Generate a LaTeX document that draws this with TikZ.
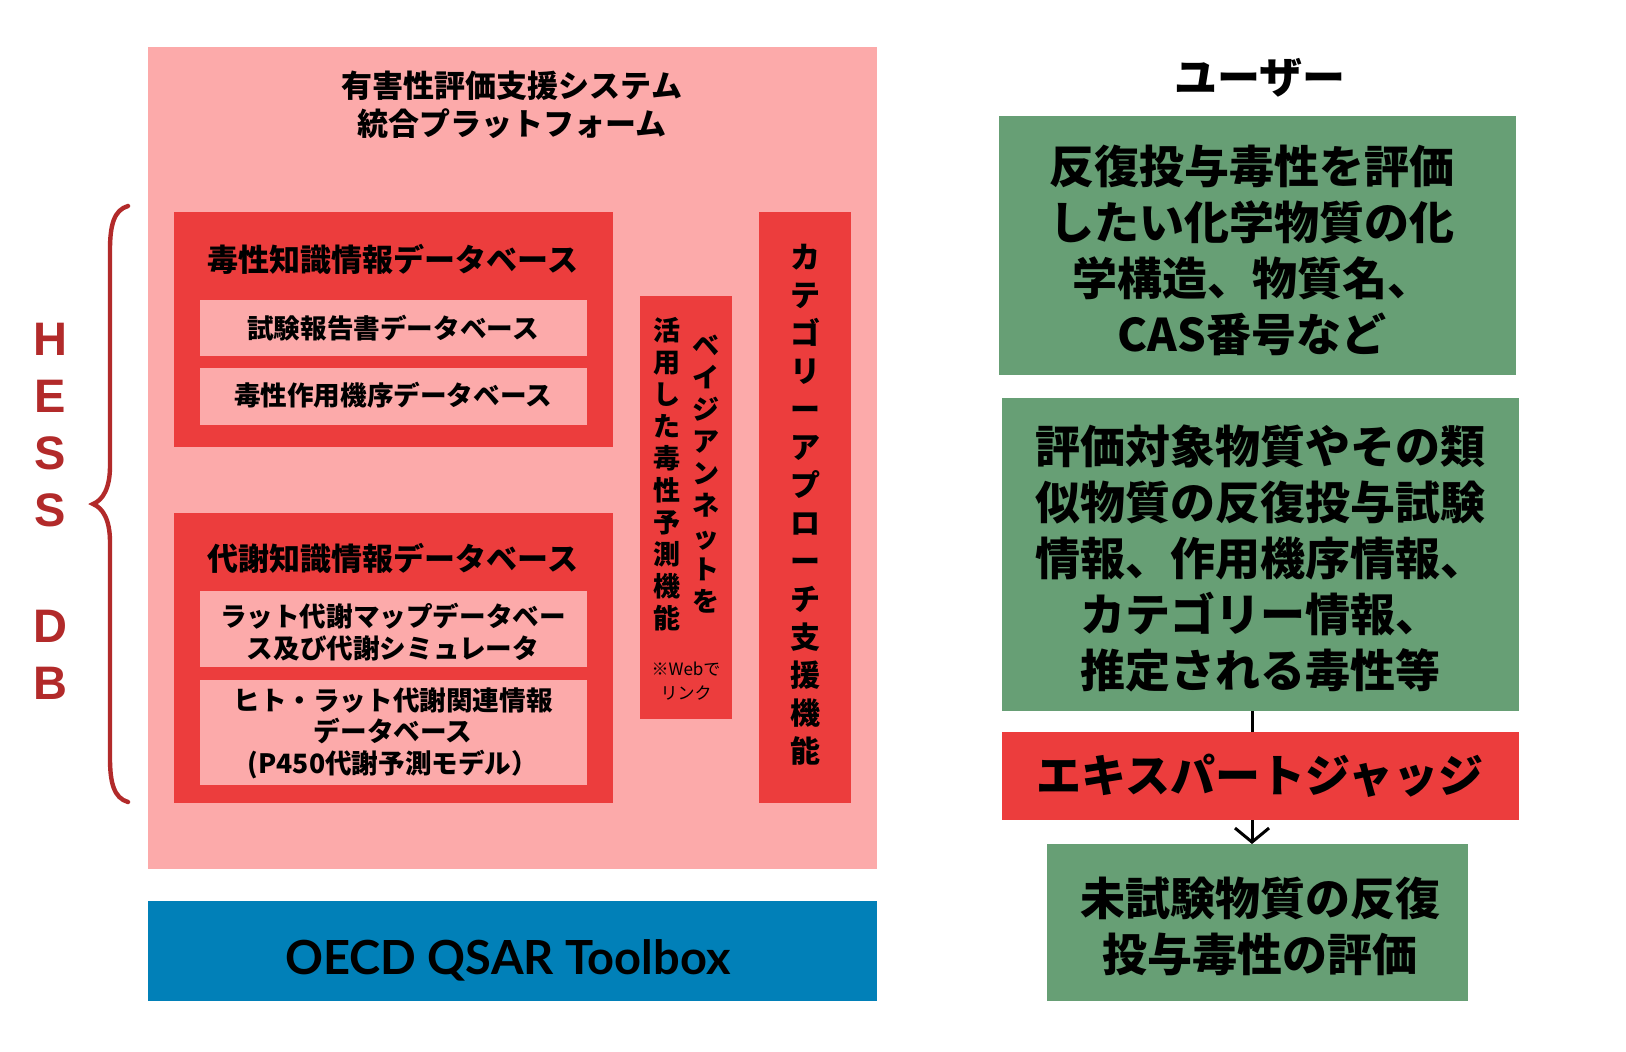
\documentclass[tikz,border=0pt]{standalone}
\usepackage{fontspec}
\setmainfont{Noto Sans CJK JP}
\newfontfamily\latofont{Lato}
\newfontfamily\arialfont{Liberation Sans}
\usetikzlibrary{fit,arrows.meta}
\definecolor{pinkc}{RGB}{252,170,170}
\definecolor{redc}{RGB}{236,61,61}
\definecolor{greenc}{RGB}{103,159,117}
\definecolor{bluec}{RGB}{1,128,184}
\definecolor{bracec}{RGB}{178,42,42}
\begin{document}
\begin{tikzpicture}[x=0.5pt,y=-0.5pt,
  box/.style={inner sep=0pt, outer sep=0pt, align=center},
  pinkbox/.style={box, fill=pinkc},
  redbox/.style={box, fill=redc},
  greenbox/.style={box, fill=greenc},
  bigtext/.style={box, font=\bfseries\fontsize{22.5}{28}\selectfont},
  dbtitle/.style={box, font=\bfseries\fontsize{15.5}{19}\selectfont},
  subtext/.style={box, font=\bfseries\fontsize{13.3}{15.8}\selectfont},
  vcol/.style={box, font=\bfseries\fontsize{13.5}{16}\selectfont},
  hess/.style={box, text=bracec, font=\arialfont\bfseries\fontsize{23.5}{23}\selectfont},
  conn/.style={line width=1.5pt, black}
]
\useasboundingbox[fill=white] (0,0) rectangle (1626,1051);

% main platform
\node[pinkbox, fit={(148,47)(877,869)}] (main) {};
\node[dbtitle] (title) at (512,105) {有害性評価支援システム\\統合プラットフォーム};

% toxicity knowledge DB
\node[redbox, fit={(174,212)(613,447)}] (tox) {};
\node[dbtitle] (toxt) at (393,259) {毒性知識情報データベース};
\node[pinkbox, fit={(200,300)(587,356)}] (tox1) {};
\node[subtext] (tox1t) at (393,328) {試験報告書データベース};
\node[pinkbox, fit={(200,368)(587,425)}] (tox2) {};
\node[subtext] (tox2t) at (393,395) {毒性作用機序データベース};

% metabolism knowledge DB
\node[redbox, fit={(174,513)(613,803)}] (met) {};
\node[dbtitle] (mett) at (393,558) {代謝知識情報データベース};
\node[pinkbox, fit={(200,591)(587,667)}] (met1) {};
\node[subtext] (met1t) at (393,632) {ラット代謝マップデータベー\\ス及び代謝シミュレータ};
\node[pinkbox, fit={(200,680)(587,785)}] (met2) {};
\node[subtext] (met2t) at (393,733) {ヒト・ラット代謝関連情報\\データベース\\(P450代謝予測モデル）};

% Bayesian network
\node[redbox, fit={(640,296)(732,719)}] (bay) {};
\node[vcol] (bayr) at (706,474) {ベ\\イ\\ジ\\ア\\ン\\ネ\\ッ\\ト\\を};
\node[vcol] (bayl) at (667,474) {活\\用\\し\\た\\毒\\性\\予\\測\\機\\能};
\node[box, font=\fontsize{8.5}{12}\selectfont] (web) at (686,681) {※Webで\\リンク};

% category approach
\node[redbox, fit={(759,212)(851,803)}] (cat) {};
\node[box, font=\bfseries\fontsize{15}{19}\selectfont] (catt) at (805,505)
  {カ\\テ\\ゴ\\リ\\ー\\ア\\プ\\ロ\\ー\\チ\\支\\援\\機\\能};

% OECD
\node[box, fill=bluec, fit={(148,901)(877,1001)}] (oecd) {};
\node[box, font=\latofont\bfseries\fontsize{23.5}{23}\selectfont] (oecdt) at (508,960) {OECD QSAR Toolbox};

% HESS DB brace
\node[hess] (h1) at (50,339) {H};
\node[hess] (h2) at (50,396) {E};
\node[hess] (h3) at (50,453) {S};
\node[hess] (h4) at (50,510) {S};
\node[hess] (h5) at (50,626) {D};
\node[hess] (h6) at (50,683) {B};
\draw[bracec, line width=2.2pt, line cap=round]
  (128,206) .. controls (114,210) and (110,225) .. (110,250) -- (110,466)
  .. controls (110,488) and (103,500) .. (93,504)
  .. controls (103,508) and (110,520) .. (110,542) -- (110,758)
  .. controls (110,783) and (114,798) .. (128,802);

% user side
\node[box, font=\bfseries\fontsize{21.5}{24}\selectfont] (user) at (1260,78) {ユーザー};
\node[greenbox, fit={(999,116)(1516,375)}] (g1) {};
\node[bigtext] (g1t) at (1252,250) {反復投与毒性を評価\\したい化学物質の化\\学構造、物質名、\\CAS番号など};
\node[greenbox, fit={(1002,398)(1519,711)}] (g2) {};
\node[bigtext] (g2t) at (1260,558) {評価対象物質やその類\\似物質の反復投与試験\\情報、作用機序情報、\\カテゴリー情報、\\推定される毒性等};
\node[redbox, fit={(1002,732)(1519,820)}] (exp) {};
\node[bigtext] (expt) at (1260,776) {エキスパートジャッジ};
\node[greenbox, fit={(1047,844)(1468,1001)}] (g3) {};
\node[bigtext] (g3t) at (1260,926) {未試験物質の反復\\投与毒性の評価};

\draw[conn] ([xshift=-4.25pt]g2.south) -- ([xshift=-4.25pt]exp.north);
\draw[conn, -{Straight Barb[length=7pt,width=17pt]}] ([xshift=-4.25pt]exp.south) -- ([xshift=-4.25pt]exp.south |- g3.north);
\end{tikzpicture}
\end{document}
